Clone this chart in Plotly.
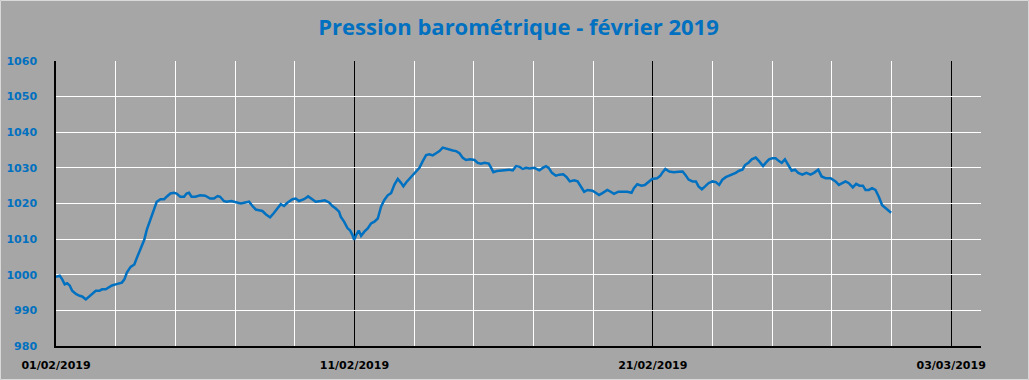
import pandas as pd
import plotly.graph_objects as go

# Barometric pressure, February 2019 (hours since 01/02/2019 00:00, hPa)
hours = [0, 3, 5, 7, 9, 11, 13, 16, 19, 21, 24, 27, 29, 32, 35, 37, 40, 43, 45, 48,
         51, 53, 55, 57, 60, 63, 65, 68, 71, 73, 76, 79, 81, 84, 87, 89, 92, 95, 97, 100,
         103, 105, 107, 109, 112, 116, 120, 124, 127, 130, 132, 135, 137, 141,
         145.9, 148.6, 151.3, 155.3, 158.0, 160.7, 163.3, 166.0, 168.7, 172.2, 174.9,
         178.1, 180.8, 183.4, 186.1, 190.2, 192.8, 195.5, 199.5, 202.8, 205.4, 208.9,
         213.0, 216.2, 219.7, 222.3, 225.0, 227.7, 229.0, 231.7, 234.4, 236.6, 238.4, 239.8,
         241.3, 243.5, 245.4, 248.0, 250.7, 253.4, 256.1, 258.8, 261.5, 264.1, 266.8,
         269.5, 272.2, 274.9, 277.5, 279.4, 281.6, 284.3, 286.9, 289.6, 292.3, 295.0,
         297.7, 300.3, 303.0, 305.7, 308.4, 311.1, 313.8, 316.4, 319.1, 321.8, 324.5,
         327.2, 329.8, 333.1, 336.6, 339.2, 341.9, 344.6, 348.1, 350.0, 351.8, 354.5,
         358.0, 361.5, 364.7, 367.4, 370.1, 372.8, 375.4, 378.1, 380.8,
         384.8, 388.8, 391.5, 394.1, 396.3, 398.9, 402.1, 404.8, 408.0, 410.7, 413.3,
         416.8, 419.5, 422.1, 424.8, 427.5, 431.5, 434.1, 436.8, 439.5, 443.5, 446.1,
         448.8, 452.3, 455.5, 459.5, 462.9, 464.8, 467.5, 470.9, 473.6, 476.8, 479.5,
         483.5, 486.1, 488.0, 490.1, 493.3, 496.8, 500.8, 504.0, 506.1, 508.8, 512.0,
         514.7, 516.8, 519.5, 522.1, 524.8,
         528.0, 530.7, 533.4, 536.0, 538.7, 541.4, 544.1, 546.7, 549.4, 552.1, 554.2,
         556.9, 559.6, 562.8, 565.5, 568.7, 570.8, 573.5, 576.2, 578.8, 581.5, 583.7,
         586.3, 589.0, 591.7, 594.4, 597.0, 600.3, 603.5, 606.9, 609.6, 613.1, 615.8,
         619.0, 623.0, 627.0, 629.7, 632.4, 635.0, 637.7, 640.9, 643.6, 646.3, 649.0,
         651.1, 653.8, 656.4, 659.1, 661.8, 664.5, 667.2, 669.8, 671.7]

pressure = [999.4, 999.7, 998.7, 997.3, 997.6, 997.0, 995.5, 994.6, 994.1, 993.9, 993.1,
            994.1, 994.6, 995.5, 995.5, 995.9, 995.9, 996.6, 997.0, 997.3, 997.5, 997.8,
            998.7, 1000.6, 1002.2, 1002.9, 1004.7, 1007.5, 1009.8, 1012.6, 1015.4, 1018.1,
            1020.5, 1021.2, 1021.2, 1021.9, 1022.8, 1023.0, 1022.8, 1021.9, 1021.9, 1022.8,
            1023.0, 1021.9, 1021.9, 1022.3, 1022.2, 1021.4, 1021.4, 1022.1, 1021.9, 1020.7,
            1020.5, 1020.7,
            1020.2, 1020.0, 1020.2, 1020.5, 1019.3, 1018.3, 1018.1, 1017.9, 1017.0, 1016.1,
            1017.2, 1018.6, 1019.8, 1019.3, 1020.2, 1021.2, 1021.4, 1020.7, 1021.2, 1022.0,
            1021.4, 1020.5, 1020.7, 1020.9, 1020.3, 1019.3, 1018.6, 1017.7, 1016.3, 1014.9,
            1013.1, 1012.4, 1011.2, 1009.8,
            1011.1, 1012.4, 1010.9, 1012.1, 1013.0, 1014.4, 1014.9, 1015.8, 1019.2, 1021.0,
            1022.3, 1022.9, 1025.3, 1026.9, 1025.8, 1024.8, 1025.9, 1026.9, 1027.8, 1029.1,
            1030.0, 1031.9, 1033.6, 1033.8, 1033.5, 1034.1, 1034.7, 1035.7, 1035.4, 1035.0,
            1034.9, 1034.7, 1034.1, 1032.8, 1032.2, 1032.4, 1032.2, 1031.4, 1031.2, 1031.4,
            1031.2, 1030.0, 1028.8, 1029.1, 1029.3, 1029.3, 1029.5, 1029.3, 1030.5, 1030.3,
            1029.7, 1030.0, 1029.8,
            1030.0, 1029.3, 1030.0, 1030.5, 1030.0, 1028.6, 1027.8, 1028.1, 1028.2, 1027.4,
            1026.2, 1026.5, 1026.2, 1024.8, 1023.3, 1023.8, 1023.6, 1023.0, 1022.4, 1022.9,
            1023.8, 1023.3, 1022.7, 1023.3, 1023.3, 1023.3, 1023.0, 1024.3, 1025.4, 1025.0,
            1025.2, 1026.2, 1026.9, 1027.1, 1027.8, 1028.8, 1029.7, 1029.0, 1028.8, 1028.9,
            1029.0, 1028.1, 1026.7, 1026.2, 1026.2, 1024.8, 1024.0, 1024.8, 1025.7,
            1026.2, 1026.0, 1025.2, 1026.7, 1027.4, 1027.8, 1028.1, 1028.6, 1029.2, 1029.5,
            1030.8, 1031.4, 1032.4, 1032.9, 1031.9, 1030.5, 1031.4, 1032.4, 1032.7, 1032.7,
            1031.9, 1031.4, 1032.4, 1030.8, 1029.2, 1029.5, 1028.6, 1028.1, 1028.6, 1028.1,
            1028.6, 1029.5, 1027.6, 1027.1, 1027.1, 1026.2, 1025.2, 1025.7, 1026.2, 1025.7,
            1024.5, 1025.5, 1025.0, 1025.0, 1023.8, 1023.8, 1024.3, 1023.8, 1021.9, 1019.5,
            1018.8, 1018.1, 1017.4]

start = pd.Timestamp("2019-02-01 00:00")
times = start + pd.to_timedelta(hours, unit="h")

title_text = "Pression barométrique - février 2019"
x_range = ["2019-02-01", "2019-03-04"]
y_range = [980, 1060]

BLUE = "#0070C0"
BG = "#A6A6A6"

fig = go.Figure()
fig.add_trace(go.Scatter(x=times, y=pressure, mode="lines",
                         line=dict(color=BLUE, width=2.5), showlegend=False))

W, H = 1029, 380
L, R, T, B = 56, 48, 61, 34
pw, ph = W - L - R, H - T - B

fig.update_layout(
    width=W, height=H, autosize=False,
    margin=dict(l=L, r=R, t=T, b=B, pad=0, autoexpand=False),
    paper_bgcolor=BG, plot_bgcolor=BG,
    title=dict(text=title_text, x=0.5, xanchor="center", xref="paper",
               y=1 - 27 / H, yref="container", yanchor="middle",
               font=dict(family="Open Sans, Liberation Sans",
                         size=22, color=BLUE, weight="bold")),
    xaxis=dict(type="date", range=x_range, tick0="2019-02-01", dtick=10 * 86400000,
               tickformat="%d/%m/%Y", showgrid=True, gridcolor="black", gridwidth=1,
               minor=dict(dtick=2 * 86400000, tick0="2019-02-01", showgrid=True,
                          gridcolor="white", gridwidth=1),
               showline=True, linecolor="black", linewidth=2, ticks="", zeroline=False,
               ticklabelstandoff=8, automargin=False,
               tickfont=dict(family="Tahoma, DejaVu Sans", size=11, color="black", weight="bold")),
    yaxis=dict(range=y_range, dtick=10, tick0=980, showgrid=True, gridcolor="white",
               gridwidth=1, showline=True, linecolor="black", linewidth=1.5, ticks="",
               zeroline=False, ticklabelstandoff=15, automargin=False,
               tickfont=dict(family="Tahoma, DejaVu Sans", size=11, color=BLUE, weight="bold")),
    shapes=[dict(type="rect", xref="paper", yref="paper",
                 x0=(-L + 0.5) / pw, x1=(W - L - 0.5) / pw,
                 y0=(-B + 0.5) / ph, y1=(H - B - 0.5) / ph,
                 line=dict(color="#D9D9D9", width=1), layer="below")],
)

fig.write_html("out.html")
